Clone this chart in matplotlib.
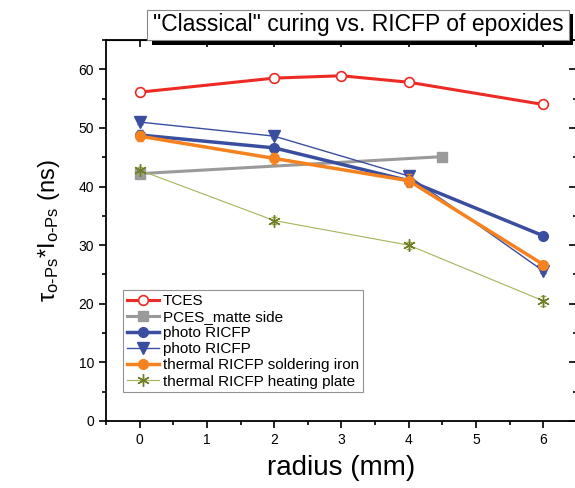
import matplotlib.pyplot as plt
from matplotlib.patches import Rectangle
from matplotlib.ticker import MultipleLocator

plt.rcParams['font.family'] = ['Liberation Sans', 'DejaVu Sans']
plt.rcParams['mathtext.fontset'] = 'custom'
plt.rcParams['mathtext.rm'] = 'Liberation Sans'
plt.rcParams['mathtext.it'] = 'Liberation Sans'

# positron lifetime * intensity along the sample radius
r_tces = [0, 2, 3, 4, 6]
tces = [56.1, 58.5, 58.9, 57.8, 54.0]
tces_err = [0.4, 0.4, 0.4, 0.4, 0.4]

r_pces = [0, 4.5]
pces = [42.2, 45.1]
pces_err = [0.4, 0.4]

r_photo = [0, 2, 4, 6]
photo_circ = [48.8, 46.6, 41.0, 31.6]
photo_circ_err = [0.8, 0.5, 0.9, 0.4]
photo_tri = [51.0, 48.6, 41.8, 25.6]
photo_tri_err = [0.4, 0.4, 0.8, 0.4]

r_thermal = [0, 2, 4, 6]
solder = [48.6, 44.8, 41.0, 26.7]
solder_err = [0.8, 0.9, 1.1, 0.5]
plate = [42.8, 34.2, 30.0, 20.5]
plate_err = [0.6, 0.6, 0.6, 0.8]

fig = plt.figure(figsize=(5.75, 4.88), dpi=100)
ax = fig.add_axes([0.1843, 0.1373, 0.819, 0.7807])

red = '#ee2a24'
gray = '#9a9a9a'
blue = '#3a4ea0'
orange = '#f6821f'
olive = '#a5b35a'

series = [
    (r_tces, tces, tces_err, red, 2.2, 'o', 7, dict(mfc='white', mec=red, mew=1.2), 'TCES', 5),
    (r_pces, pces, pces_err, gray, 2.2, 's', 7, {}, 'PCES_matte side', 3),
    (r_photo, photo_circ, photo_circ_err, blue, 2.5, 'o', 7, {}, 'photo RICFP', 4),
    (r_photo, photo_tri, photo_tri_err, blue, 1.0, 'v', 8, {}, 'photo RICFP', 4),
    (r_thermal, solder, solder_err, orange, 2.5, 'o', 7, {}, 'thermal RICFP soldering iron', 4),
    (r_thermal, plate, plate_err, olive, 0.8, (6, 2, 0), 9, dict(mec='#6f7d26', mew=1.0),
     'thermal RICFP heating plate', 4),
]
for x, y, err, c, lw, m, ms, extra, lab, z in series:
    ax.errorbar(x, y, yerr=err, fmt='none', ecolor=c, elinewidth=0.9, capsize=2.5, zorder=z)
    ax.plot(x, y, color=c, lw=lw, marker=m, ms=ms, label=lab, zorder=z, **extra)

ax.set_xlim(-0.5, 6.5)
ax.set_ylim(0, 65)
ax.xaxis.set_major_locator(MultipleLocator(1))
ax.xaxis.set_minor_locator(MultipleLocator(0.5))
ax.yaxis.set_major_locator(MultipleLocator(10))
ax.yaxis.set_minor_locator(MultipleLocator(5))

ax.tick_params(which='both', direction='out', labelsize=10, width=1.2)
ax.tick_params(which='major', length=5)
ax.tick_params(which='minor', length=3)
for spine in ax.spines.values():
    spine.set_linewidth(1.3)

# inward ticks on the top and right side
ax2 = ax.secondary_xaxis('top')
ax2.xaxis.set_major_locator(MultipleLocator(1))
ax2.tick_params(direction='in', length=5, width=1.2, labeltop=False)
ax3 = ax.secondary_yaxis('right')
ax3.yaxis.set_major_locator(MultipleLocator(10))
ax3.yaxis.set_minor_locator(MultipleLocator(5))
ax3.tick_params(which='both', direction='in', width=1.2, labelright=False)
ax3.tick_params(which='major', length=6)
ax3.tick_params(which='minor', length=3)

ax.set_xlabel('radius (mm)', fontsize=20, labelpad=6)
ax.set_ylabel(r'$\mathregular{\tau_{o\text{-}Ps}}$*$\mathregular{I_{o\text{-}Ps}}$ (ns)', fontsize=17, labelpad=12)

leg = ax.legend(loc='lower left', bbox_to_anchor=(0.036, 0.075), fontsize=11, frameon=True,
                fancybox=False, edgecolor='#777777', handlelength=2.1, handletextpad=0.25,
                labelspacing=0.14, borderpad=0.25, borderaxespad=0)
leg.get_frame().set_linewidth(0.8)

# title box with drop shadow
W, H = 575, 488
fig.patches.append(Rectangle((152 / W, (H - 45) / H), 421 / W, 31 / H, transform=fig.transFigure,
                             facecolor='black', edgecolor='none', zorder=10))
fig.patches.append(Rectangle((147 / W, (H - 40) / H), 422 / W, 30 / H, transform=fig.transFigure,
                             facecolor='white', edgecolor='#888888', lw=0.8, zorder=11))
fig.text(358 / W, (H - 25) / H, '"Classical" curing vs. RICFP of epoxides', fontsize=16.5,
         ha='center', va='center', zorder=12)

fig.savefig('out.png', dpi=100)
